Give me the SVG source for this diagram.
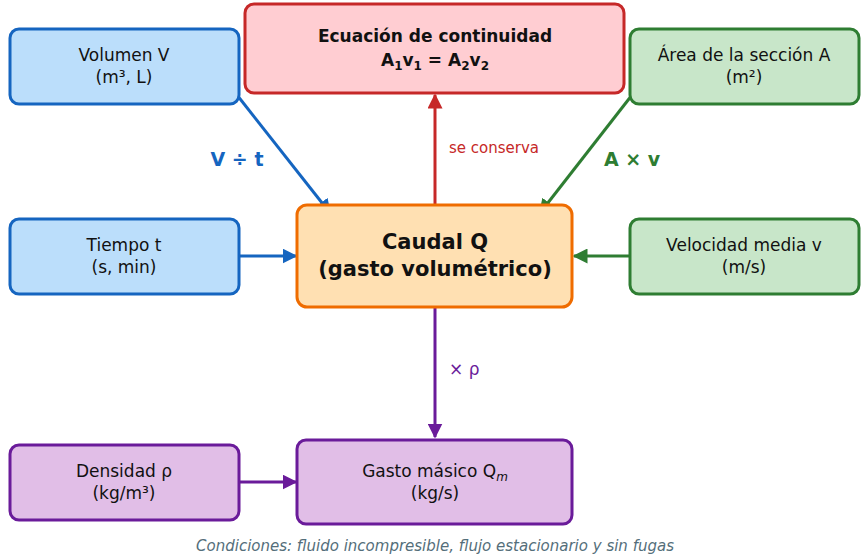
<svg xmlns="http://www.w3.org/2000/svg" width="863" height="557" viewBox="0 0 863 557">
<style>
text{font-family:"DejaVu Sans",sans-serif;text-anchor:middle;fill:#111}
.n{font-size:17px}
.b{stroke-width:3}
.c{fill:none;stroke-width:3}
</style>
<defs>
<marker id="mb" viewBox="0 0 10 10" refX="9" refY="5" markerWidth="5" markerHeight="5" orient="auto"><path d="M0,0L10,5L0,10z" fill="#1565c0"/></marker>
<marker id="mg" viewBox="0 0 10 10" refX="9" refY="5" markerWidth="5" markerHeight="5" orient="auto"><path d="M0,0L10,5L0,10z" fill="#2e7d32"/></marker>
<marker id="mr" viewBox="0 0 10 10" refX="9" refY="5" markerWidth="5" markerHeight="5" orient="auto"><path d="M0,0L10,5L0,10z" fill="#c62828"/></marker>
<marker id="mp" viewBox="0 0 10 10" refX="9" refY="5" markerWidth="5" markerHeight="5" orient="auto"><path d="M0,0L10,5L0,10z" fill="#6a1b9a"/></marker>
</defs>
<rect width="863" height="557" fill="#fff"/>
<g id="connectors">
<path class="c" d="M237,95L330,213" stroke="#1565c0" marker-end="url(#mb)"/>
<path class="c" d="M632,95L540,213" stroke="#2e7d32" marker-end="url(#mg)"/>
<path class="c" d="M239,256L296,256" stroke="#1565c0" marker-end="url(#mb)"/>
<path class="c" d="M632,256L574,256" stroke="#2e7d32" marker-end="url(#mg)"/>
<path class="c" d="M435,207L435,95" stroke="#c62828" marker-end="url(#mr)"/>
<path class="c" d="M435,307L435,437" stroke="#6a1b9a" marker-end="url(#mp)"/>
<path class="c" d="M239,482L296,482" stroke="#6a1b9a" marker-end="url(#mp)"/>
<text x="237" y="166" style="font-size:19px;font-weight:bold;fill:#1565c0">V ÷ t</text>
<text x="632" y="166" style="font-size:19px;font-weight:bold;fill:#2e7d32">A × v</text>
<text x="449" y="153" style="font-size:15px;fill:#c62828;text-anchor:start">se conserva</text>
<text x="449" y="375" style="font-size:17px;fill:#6a1b9a;text-anchor:start">× ρ</text>
</g>
<g id="volumen"><rect class="b" x="10" y="29" width="229" height="75" rx="9" fill="#bbdefb" stroke="#1565c0"/><text class="n" x="124" y="61">Volumen V</text><text class="n" x="124" y="83">(m³, L)</text></g>
<g id="ecuacion"><rect class="b" x="245" y="4" width="379" height="89" rx="9" fill="#ffcdd2" stroke="#c62828"/><text x="435" y="42" style="font-size:17px;font-weight:bold">Ecuación de continuidad</text><text x="435" y="66" style="font-size:17px;font-weight:bold">A<tspan font-size="12" dy="4">1</tspan><tspan dy="-4">v</tspan><tspan font-size="12" dy="4">1</tspan><tspan dy="-4"> = A</tspan><tspan font-size="12" dy="4">2</tspan><tspan dy="-4">v</tspan><tspan font-size="12" dy="4">2</tspan></text></g>
<g id="area"><rect class="b" x="630" y="29" width="229" height="75" rx="9" fill="#c8e6c9" stroke="#2e7d32"/><text class="n" x="744" y="61">Área de la sección A</text><text class="n" x="744" y="83">(m²)</text></g>
<g id="tiempo"><rect class="b" x="10" y="219" width="229" height="75" rx="9" fill="#bbdefb" stroke="#1565c0"/><text class="n" x="124" y="251">Tiempo t</text><text class="n" x="124" y="273">(s, min)</text></g>
<g id="caudal"><rect class="b" x="297" y="205" width="275" height="102" rx="10" fill="#ffe0b2" stroke="#ef6c00"/><text x="435" y="249" style="font-size:21px;font-weight:bold">Caudal Q</text><text x="435" y="276" style="font-size:21px;font-weight:bold">(gasto volumétrico)</text></g>
<g id="velocidad"><rect class="b" x="630" y="219" width="229" height="75" rx="9" fill="#c8e6c9" stroke="#2e7d32"/><text class="n" x="744" y="251">Velocidad media v</text><text class="n" x="744" y="273">(m/s)</text></g>
<g id="densidad"><rect class="b" x="10" y="445" width="229" height="75" rx="9" fill="#e1bee7" stroke="#6a1b9a"/><text class="n" x="124" y="477">Densidad ρ</text><text class="n" x="124" y="499">(kg/m³)</text></g>
<g id="masico"><rect class="b" x="297" y="440" width="275" height="84" rx="9" fill="#e1bee7" stroke="#6a1b9a"/><text class="n" x="435" y="477">Gasto másico Q<tspan font-size="12" dy="4" font-style="italic">m</tspan></text><text class="n" x="435" y="499">(kg/s)</text></g>
<text x="435" y="551" style="font-size:15px;font-style:italic;fill:#546e7a">Condiciones: fluido incompresible, flujo estacionario y sin fugas</text>
</svg>
